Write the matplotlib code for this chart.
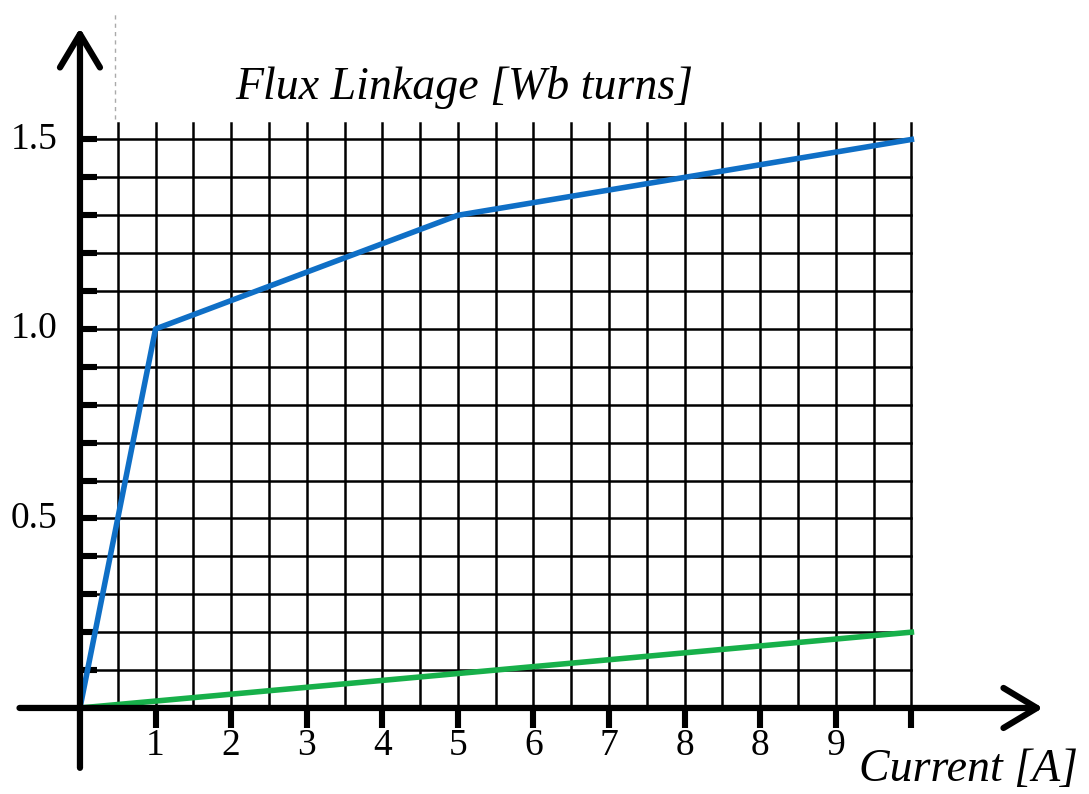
import numpy as np
import matplotlib.pyplot as plt

plt.rcParams["font.family"] = "Liberation Serif"

# data
flux_current = [0, 1, 5, 11]
flux_linkage = [0, 1.0, 1.3, 1.5]
green_current = [0, 11]
green_linkage = [0, 0.2]

x_tick_pos = [1, 2, 3, 4, 5, 6, 7, 8, 9, 10, 11]
x_tick_labels = ["1", "2", "3", "4", "5", "6", "7", "8", "8", "9", ""]
y_tick_pos = [0.5, 1.0, 1.5]
y_tick_labels = ["0.5", "1.0", "1.5"]

x_grid = np.arange(0.5, 11.01, 0.5)
y_grid = np.arange(0.1, 1.501, 0.1)

fig = plt.figure(figsize=(10.89, 7.94), dpi=100)
ax = fig.add_axes([0, 0, 1, 1])
ax.set_xlim(-1.058, 13.35)
ax.set_ylim(-0.227, 1.868)
ax.axis("off")

# grid
for xg in x_grid:
    ax.plot([xg, xg], [0, 1.543], color="black", lw=1.8, zorder=1)
for yg in y_grid:
    ax.plot([0, 11], [yg, yg], color="black", lw=1.8, zorder=1)
    ax.plot([0, 0.22], [yg, yg], color="black", lw=4.4, solid_capstyle="butt", zorder=3)

# dotted guide at top
ax.plot([0.46, 0.46], [1.555, 1.84], color="#aaaaaa", lw=1.0, ls=(0, (3, 3)), zorder=1)

# curves
ax.plot(flux_current, flux_linkage, color="#0f6fc6", lw=4.0, zorder=4)
ax.plot(green_current, green_linkage, color="#17b04a", lw=4.0, zorder=4)

# axes with arrow heads
ax.annotate("", xy=(12.74, 0), xytext=(-0.8, 0),
            arrowprops=dict(arrowstyle="->,head_length=1.0,head_width=0.6",
                            lw=4.5, color="black", mutation_scale=24,
                            shrinkA=0, shrinkB=0), zorder=5)
ax.annotate("", xy=(0, 1.794), xytext=(0, -0.158),
            arrowprops=dict(arrowstyle="->,head_length=1.0,head_width=0.6",
                            lw=4.5, color="black", mutation_scale=24,
                            shrinkA=0, shrinkB=0), zorder=5)

# x ticks
for xt, lab in zip(x_tick_pos, x_tick_labels):
    ax.plot([xt, xt], [0, -0.052], color="black", lw=4.4, solid_capstyle="butt", zorder=5)
    if lab:
        ax.text(xt, -0.1, lab, ha="center", va="center", fontsize=27)

# y tick labels
for yt, lab in zip(y_tick_pos, y_tick_labels):
    ax.text(-0.3, yt, lab, ha="right", va="center", fontsize=27)

ax.text(5.09, 1.636, "Flux Linkage [Wb turns]", ha="center", va="center",
        fontsize=33, style="italic")
ax.text(11.75, -0.164, "Current [A]", ha="center", va="center",
        fontsize=33, style="italic")

fig.savefig("out.png", dpi=100)
